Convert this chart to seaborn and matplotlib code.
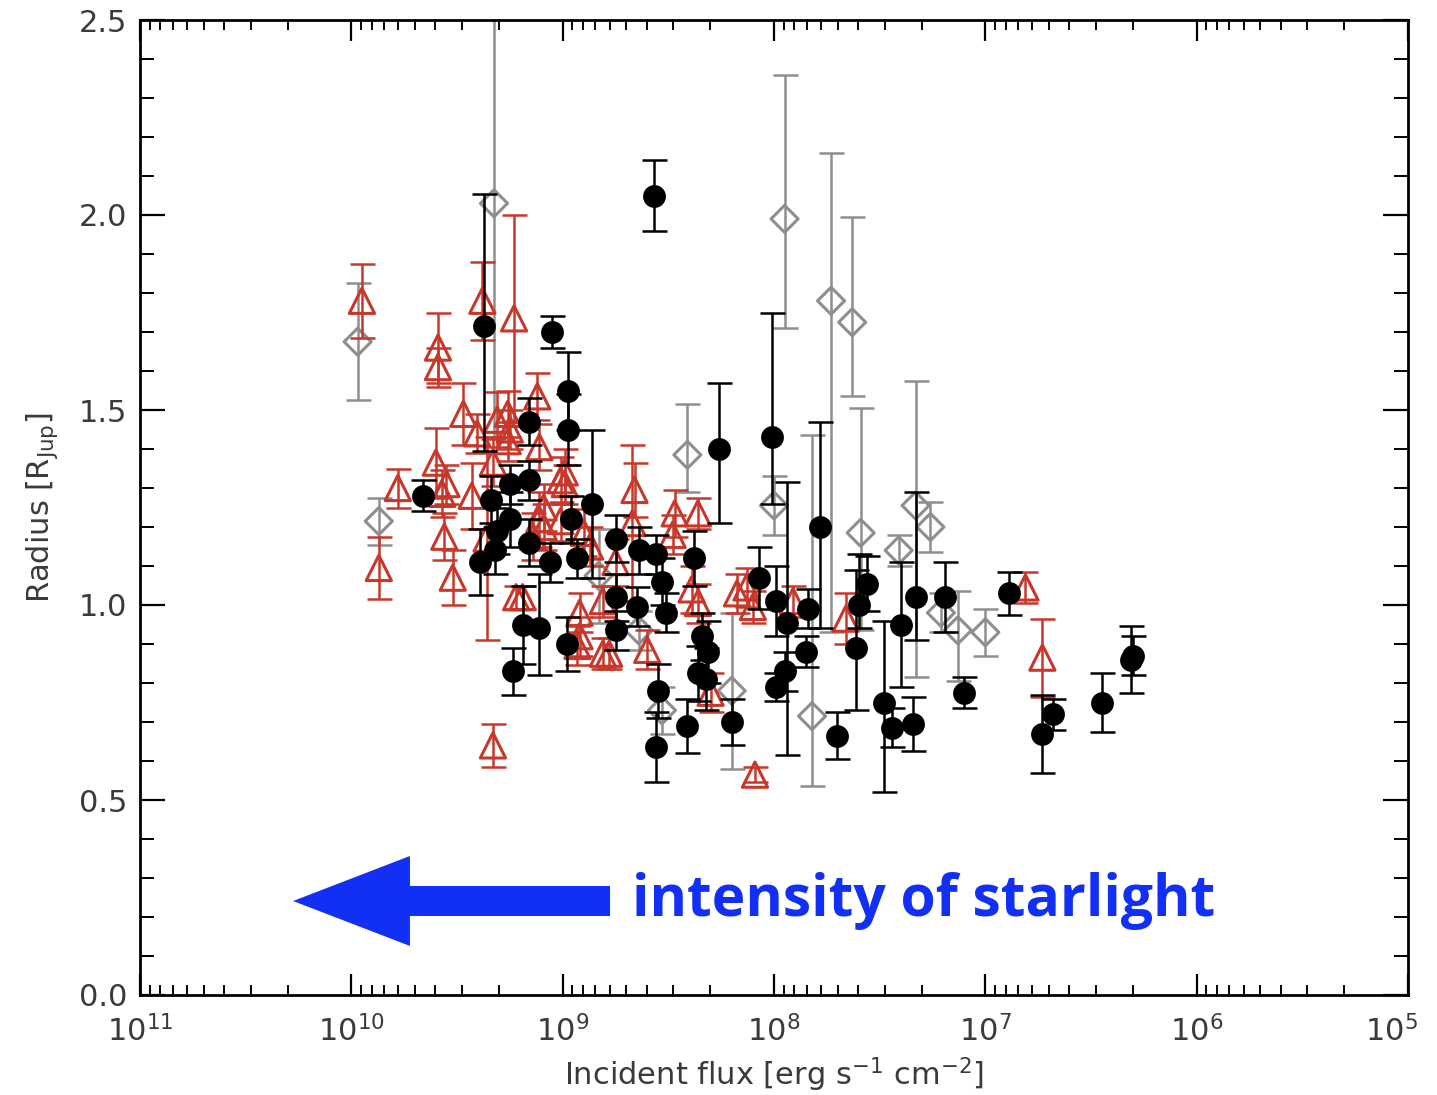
import numpy as np
import pandas as pd
import matplotlib
matplotlib.use("Agg")
import matplotlib.pyplot as plt
import seaborn as sns
from matplotlib.ticker import (LogLocator, NullFormatter, MultipleLocator,
                               FormatStrFormatter, FuncFormatter)
from matplotlib.patches import Polygon

# ---- transiting planets: log10 incident flux [erg s^-1 cm^-2], radius [R_Jup], errors ----
black_logflux = [9.66, 9.37, 9.05, 8.975, 8.975, 8.57, 8.26, 8.01, 7.78, 9.16,
                 9.16, 9.25, 9.34, 8.86, 8.96, 9.25, 9.31, 9.32, 9.16, 9.39,
                 9.06, 8.93, 9.19, 9.11, 8.98, 9.235, 8.75, 8.64, 8.56, 8.38,
                 8.53, 8.75, 8.65, 8.51, 8.75, 8.07, 8.34, 8.31, 8.36, 8.32,
                 8.55, 8.56, 8.41, 8.20, 7.99, 7.94, 7.84, 7.85, 7.95, 7.99,
                 7.70, 7.56, 7.60, 7.61, 7.48, 7.44, 7.34, 7.40, 7.33, 7.19,
                 7.10, 6.89, 6.73, 6.68, 6.45, 6.31, 6.30]
black_radius = [1.28, 1.715, 1.70, 1.55, 1.45, 2.05, 1.40, 1.43, 1.20, 1.47,
                1.32, 1.31, 1.27, 1.26, 1.22, 1.22, 1.19, 1.14, 1.16, 1.11,
                1.11, 1.12, 0.95, 0.94, 0.90, 0.83, 1.17, 1.14, 1.13, 1.12,
                1.06, 1.02, 0.995, 0.98, 0.935, 1.07, 0.92, 0.88, 0.825, 0.81,
                0.78, 0.635, 0.69, 0.70, 1.01, 0.955, 0.99, 0.88, 0.83, 0.79,
                0.665, 1.055, 1.00, 0.89, 0.75, 0.685, 0.695, 0.95, 1.02, 1.02,
                0.775, 1.03, 0.67, 0.72, 0.75, 0.86, 0.87]
black_err_lo = [0.04, 0.32, 0.04, 0.10, 0.09, 0.09, 0.19, 0.17, 0.26, 0.06,
                0.05, 0.05, 0.06, 0.19, 0.06, 0.07, 0.06, 0.06, 0.06, 0.085,
                0.05, 0.05, 0.10, 0.12, 0.07, 0.06, 0.06, 0.06, 0.05, 0.07,
                0.06, 0.06, 0.05, 0.05, 0.05, 0.08, 0.06, 0.08, 0.07, 0.08,
                0.07, 0.09, 0.07, 0.06, 0.09, 0.34, 0.05, 0.04, 0.05, 0.035,
                0.06, 0.07, 0.06, 0.16, 0.23, 0.05, 0.07, 0.16, 0.11, 0.09,
                0.04, 0.055, 0.10, 0.04, 0.075, 0.085, 0.05]
black_err_hi = [0.04, 0.34, 0.04, 0.10, 0.09, 0.09, 0.17, 0.32, 0.27, 0.06,
                0.05, 0.05, 0.06, 0.19, 0.06, 0.07, 0.06, 0.06, 0.06, 0.085,
                0.05, 0.05, 0.10, 0.14, 0.07, 0.06, 0.06, 0.06, 0.05, 0.07,
                0.06, 0.06, 0.05, 0.05, 0.05, 0.08, 0.06, 0.08, 0.07, 0.08,
                0.07, 0.09, 0.07, 0.06, 0.09, 0.36, 0.05, 0.04, 0.05, 0.035,
                0.06, 0.07, 0.13, 0.20, 0.21, 0.05, 0.07, 0.16, 0.27, 0.09,
                0.04, 0.055, 0.10, 0.04, 0.075, 0.085, 0.05]

red_logflux = [9.95, 9.59, 9.59, 9.38, 9.23, 9.47, 9.405, 9.60, 9.12, 9.11,
               9.31, 9.25, 9.78, 9.87, 9.57, 9.56, 9.43, 9.52, 9.33, 9.19,
               9.01, 9.11, 8.99, 8.66, 8.47, 8.36, 9.01, 8.90, 8.67, 8.48,
               8.39, 8.36, 8.175, 8.13, 8.10, 8.93, 8.78, 8.60, 8.09, 8.30,
               7.91, 7.66, 6.81, 6.73, 9.55, 9.26, 9.26, 8.99, 9.09, 9.09,
               9.22, 8.92, 8.92, 8.81, 8.81, 9.33, 9.14, 9.36, 8.87, 8.75]
red_radius = [1.78, 1.66, 1.61, 1.78, 1.735, 1.49, 1.44, 1.365, 1.535, 1.405,
              1.475, 1.45, 1.30, 1.095, 1.285, 1.175, 1.28, 1.07, 0.64, 1.02,
              1.32, 1.22, 1.34, 1.295, 1.235, 1.235, 1.215, 1.185, 1.21, 1.18,
              1.04, 1.005, 1.03, 1.045, 0.995, 0.895, 0.875, 0.885, 0.565, 0.775,
              1.01, 0.965, 1.045, 0.865, 1.31, 1.49, 1.42, 1.31, 1.25, 1.20,
              1.02, 0.98, 0.92, 0.875, 1.01, 1.365, 1.175, 1.17, 1.15, 1.11]
red_err = [0.095, 0.09, 0.05, 0.10, 0.265, 0.08, 0.05, 0.09, 0.06, 0.06,
           0.07, 0.05, 0.05, 0.08, 0.06, 0.06, 0.085, 0.07, 0.055, 0.03,
           0.06, 0.07, 0.06, 0.07, 0.06, 0.04, 0.05, 0.06, 0.20, 0.05,
           0.06, 0.05, 0.05, 0.05, 0.04, 0.05, 0.04, 0.05, 0.02, 0.05,
           0.04, 0.065, 0.04, 0.10, 0.05, 0.06, 0.05, 0.05, 0.06, 0.06,
           0.03, 0.05, 0.05, 0.04, 0.04, 0.06, 0.06, 0.26, 0.05, 0.06]

gray_logflux = [9.97, 9.87, 9.325, 8.41, 7.95, 7.73, 7.63, 7.59, 7.41, 7.33,
                7.26, 7.21, 7.13, 7.00, 8.00, 7.82, 8.83, 8.53, 8.20, 8.64]
gray_radius = [1.675, 1.215, 2.03, 1.385, 1.99, 1.78, 1.725, 1.185, 1.14, 1.255,
               1.20, 0.98, 0.935, 0.93, 1.255, 0.715, 1.075, 0.73, 0.78, 0.935]
gray_err_lo = [0.15, 0.06, 0.60, 0.095, 0.28, 0.85, 0.19, 0.25, 0.04, 0.44,
               0.065, 0.05, 0.13, 0.06, 0.075, 0.18, 0.12, 0.06, 0.20, 0.05]
gray_err_hi = [0.15, 0.06, 0.60, 0.13, 0.37, 0.38, 0.27, 0.32, 0.04, 0.32,
               0.065, 0.05, 0.10, 0.06, 0.075, 0.72, 0.12, 0.06, 0.20, 0.05]

BLACK = "#000000"
RED = "#c8372a"
GRAY = "#8e8e8e"
BLUE = "#1230f5"
LABEL = "#3a3a3a"
FLUX_MIN, FLUX_MAX = 1e5, 1e11

sns.set_style("ticks")
plt.rcParams["font.family"] = ["DejaVu Sans"]
plt.rcParams["mathtext.fontset"] = "dejavusans"

fig = plt.figure(figsize=(14.37, 10.95), dpi=100)
ax = fig.add_axes([140 / 1437, 100 / 1095, 1268 / 1437, 975 / 1095])


def draw_series(logflux, radius, lo, hi, color, marker, size, filled, z):
    df = pd.DataFrame({"flux": np.power(10.0, logflux), "radius": radius,
                       "lo": lo, "hi": hi})
    ax.errorbar(df["flux"], df["radius"], yerr=[df["lo"], df["hi"]], fmt="none",
                ecolor=color, elinewidth=1.8, capsize=9, capthick=1.8, zorder=z)
    if filled:
        sns.scatterplot(data=df, x="flux", y="radius", ax=ax, marker=marker, s=size,
                        color=color, edgecolor=color, linewidth=0, zorder=z + 0.5,
                        legend=False)
    else:
        sns.scatterplot(data=df, x="flux", y="radius", ax=ax, marker=marker, s=size,
                        color=color, facecolor="none", edgecolor=color, linewidth=2.2,
                        zorder=z + 0.5, legend=False)


draw_series(gray_logflux, gray_radius, gray_err_lo, gray_err_hi, GRAY, "D", 190, False, 2)
draw_series(red_logflux, red_radius, red_err, red_err, RED, "^", 330, False, 3)
draw_series(black_logflux, black_radius, black_err_lo, black_err_hi, BLACK, "o", 270, True, 4)


def decade(v):
    return "$\\mathdefault{10^{%d}}$" % int(round(np.log10(v)))


def decade_label(v, pos):
    # the edge decade is written separately so that it stays inside the canvas
    if np.isclose(v, FLUX_MIN):
        return ""
    return decade(v)


ax.set_xscale("log")
ax.set_xlim(FLUX_MAX, FLUX_MIN)
ax.set_ylim(0, 2.5)
ax.xaxis.set_major_locator(LogLocator(base=10, numticks=12))
ax.xaxis.set_major_formatter(FuncFormatter(decade_label))
ax.xaxis.set_minor_locator(LogLocator(base=10, subs=np.arange(2, 10), numticks=100))
ax.xaxis.set_minor_formatter(NullFormatter())
ax.yaxis.set_major_locator(MultipleLocator(0.5))
ax.yaxis.set_minor_locator(MultipleLocator(0.1))
ax.yaxis.set_major_formatter(FormatStrFormatter("%.1f"))

ax.tick_params(which="both", direction="in", top=True, right=True, color="black")
ax.tick_params(axis="x", which="major", length=15, width=1.6, pad=14,
               labelsize=22, labelcolor=LABEL)
ax.tick_params(axis="x", which="minor", length=7, width=1.4)
ax.tick_params(axis="y", which="major", length=18, width=1.6, pad=9,
               labelsize=22, labelcolor=LABEL)
ax.tick_params(axis="y", which="minor", length=10, width=1.4)
for sp in ax.spines.values():
    sp.set_visible(True)
    sp.set_linewidth(2.0)
    sp.set_color("black")

ax.annotate(decade(FLUX_MIN), xy=(FLUX_MIN, 0), xycoords=("data", "axes fraction"),
            xytext=(7, -14), textcoords="offset points", ha="right", va="top",
            fontsize=22, color=LABEL)

ax.set_xlabel("Incident flux [erg s$^{-1}$ cm$^{-2}$]", fontsize=22, color=LABEL, labelpad=6)
ax.set_ylabel("Radius [R$_{\\rm Jup}$]", fontsize=22, color=LABEL, labelpad=14)

# direction of increasing stellar irradiation
arrow_pts = [(0.3707, 0.1118), (0.2129, 0.1118), (0.2129, 0.1426), (0.1207, 0.0964),
             (0.2129, 0.0503), (0.2129, 0.0810), (0.3707, 0.0810)]
ax.add_patch(Polygon(arrow_pts, closed=True, transform=ax.transAxes,
                     facecolor=BLUE, edgecolor="none", zorder=6))
ax.text(0.388, 0.0964, "intensity of starlight", transform=ax.transAxes,
        fontsize=41, fontweight="bold", family=["Open Sans", "DejaVu Sans"],
        color=BLUE, va="center", ha="left", zorder=6)

fig.savefig("out.png", dpi=100)
